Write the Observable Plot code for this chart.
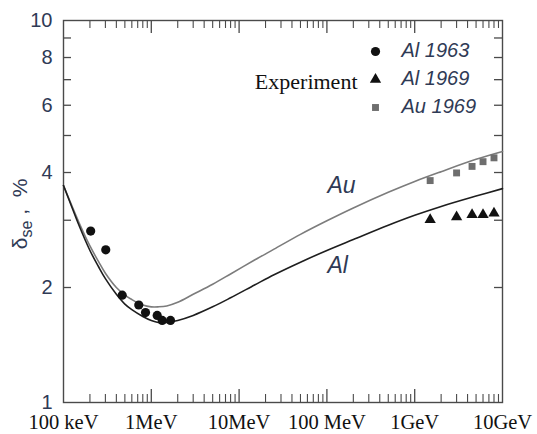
<!DOCTYPE html>
<html><head><meta charset="utf-8">
<script src="https://cdn.jsdelivr.net/npm/d3@7"></script>
<script src="https://cdn.jsdelivr.net/npm/@observablehq/plot@0.6"></script>
<style>body{margin:0;background:#fff}#chart svg{display:block}</style>
</head><body><div id="chart"></div>
<script>
// Theory curves: energy in MeV, delta_se in %
const energies = [0.1, 0.12, 0.15, 0.2, 0.25, 0.3, 0.4, 0.5, 0.6, 0.8, 1, 1.2, 1.5, 2, 3, 5, 8, 15, 25, 50, 100, 200, 500, 1000, 2000, 5000, 10000];
const auTheory = [3.70, 3.34, 2.96, 2.57, 2.34, 2.18, 2.00, 1.91, 1.86, 1.80, 1.78, 1.78, 1.79, 1.83, 1.92, 2.04, 2.17, 2.36, 2.52, 2.755, 2.99, 3.23, 3.55, 3.79, 4.02, 4.33, 4.54];
const alTheory = [3.70, 3.32, 2.91, 2.50, 2.27, 2.11, 1.92, 1.81, 1.75, 1.68, 1.64, 1.62, 1.62, 1.64, 1.69, 1.78, 1.88, 2.03, 2.16, 2.33, 2.50, 2.67, 2.91, 3.09, 3.26, 3.47, 3.63];
// Experiments
const al1963E = [0.204, 0.303, 0.466, 0.72, 0.859, 1.167, 1.331, 1.654];
const al1963V = [2.81, 2.51, 1.91, 1.80, 1.72, 1.69, 1.64, 1.64];
const exp1969E = [1500, 3000, 4500, 6000, 8000];
const al1969V = [3.01, 3.06, 3.10, 3.10, 3.13];
const au1969V = [3.81, 3.99, 4.15, 4.27, 4.37];
// Axes
const xTicks = [0.1, 1, 10, 100, 1000, 10000];
const xTickLabels = ["100 keV", "1MeV", "10MeV", "100 MeV", "1GeV", "10GeV"];
const yTicks = [1, 2, 4, 6, 8, 10];
const yMinorTicks = [3, 5, 7, 9];
const legendTitle = "Experiment";
const legendLabels = ["Al 1963", "Al 1969", "Au 1969"];
const curveLabels = ["Au", "Al"];

const W = 537, H = 434, mL = 63, mR = 35, mT = 20, mB = 32;
const pW = W - mL - mR, pH = H - mT - mB;
const frameColor = "#4a4a4a";
const navy = "#2f3a55";
const sans = "'Liberation Sans', Arial, sans-serif";
const serif = "'Liberation Serif', 'Times New Roman', serif";

const xMinor = [];
xTicks.slice(0, -1).forEach(d => { for (let k = 2; k <= 9; k++) xMinor.push(d * k); });
const xMajorInner = xTicks.slice(1, -1);
const yInner = yTicks.slice(1, -1).concat(yMinorTicks);
const labelOf = new Map(xTicks.map((d, i) => [d, xTickLabels[i]]));

const auRows = energies.map((e, i) => ({e, v: auTheory[i]}));
const alRows = energies.map((e, i) => ({e, v: alTheory[i]}));
const a63 = al1963E.map((e, i) => ({e, v: al1963V[i]}));
const al69 = exp1969E.map((e, i) => ({e, v: al1969V[i]}));
const au69 = exp1969E.map((e, i) => ({e, v: au1969V[i]}));
const symbols = ["circle", "triangle", "square"];
const symFill = ["#111", "#111", "#6e6e6e"];
const symR = [4.6, 4.2, 3.9];

const svg = Plot.plot({
  width: W, height: H,
  marginLeft: mL, marginRight: mR, marginTop: mT, marginBottom: mB,
  style: {background: "#fff", overflow: "visible"},
  x: {type: "log", domain: [0.1, 10000], label: null},
  y: {type: "log", domain: [1, 10], label: null},
  marks: [
    // ticks inward
    Plot.tickX(xMajorInner, {x: d => d, insetTop: pH - 13, stroke: frameColor, strokeWidth: 1.3}),
    Plot.tickX(xMajorInner, {x: d => d, insetBottom: pH - 13, stroke: frameColor, strokeWidth: 1.3}),
    Plot.tickX(xMinor, {x: d => d, insetTop: pH - 8, stroke: frameColor, strokeWidth: 1.1}),
    Plot.tickX(xMinor, {x: d => d, insetBottom: pH - 8, stroke: frameColor, strokeWidth: 1.1}),
    Plot.tickY(yInner, {y: d => d, insetRight: pW - 8, stroke: frameColor, strokeWidth: 1.3}),
    Plot.tickY(yInner, {y: d => d, insetLeft: pW - 8, stroke: frameColor, strokeWidth: 1.3}),
    Plot.frame({stroke: frameColor, strokeWidth: 1.4}),
    Plot.axisX({ticks: xTicks, tickSize: 0, tickPadding: 12, tickFormat: d => labelOf.get(d), fontSize: 20.5, fontFamily: serif, fill: "#111", label: null}),
    Plot.axisY({ticks: yTicks, tickSize: 0, tickPadding: 11, tickFormat: d => String(d), fontSize: 20, fontFamily: sans, fill: navy, label: null}),
    // theory
    Plot.line(auRows, {x: "e", y: "v", stroke: "#7c7c7c", strokeWidth: 1.6, curve: "catmull-rom"}),
    Plot.line(alRows, {x: "e", y: "v", stroke: "#1e1e1e", strokeWidth: 1.6, curve: "catmull-rom"}),
    // experiments
    Plot.dot(a63, {x: "e", y: "v", r: symR[0], symbol: "circle", fill: symFill[0], stroke: "none"}),
    Plot.dot(al69, {x: "e", y: "v", r: symR[1], symbol: "triangle", fill: symFill[1], stroke: "none"}),
    Plot.dot(au69, {x: "e", y: "v", r: symR[2], symbol: "square", fill: symFill[2], stroke: "none"}),
    // legend
    ...legendLabels.map((l, i) => Plot.dot([l], {frameAnchor: "top-right", dx: -127, dy: 31 + 28 * i, r: symR[i], symbol: symbols[i], fill: symFill[i], stroke: "none"})),
    ...legendLabels.map((l, i) => Plot.text([l], {text: d => d, frameAnchor: "top-right", textAnchor: "start", lineAnchor: "middle", dx: -101, dy: 30 + 28 * i, fontSize: 20, fontStyle: "italic", fontFamily: sans, fill: navy})),
    Plot.text([legendTitle], {text: d => d, frameAnchor: "top-right", textAnchor: "end", lineAnchor: "middle", dx: -145, dy: 61, fontSize: 22, fontFamily: serif, fill: "#111"}),
    // curve labels
    Plot.text([curveLabels[0]], {text: d => d, frameAnchor: "top-left", textAnchor: "start", lineAnchor: "middle", dx: 264, dy: 165, fontSize: 23, fontStyle: "italic", fontFamily: sans, fill: navy}),
    Plot.text([curveLabels[1]], {text: d => d, frameAnchor: "top-left", textAnchor: "start", lineAnchor: "middle", dx: 264, dy: 245, fontSize: 23, fontStyle: "italic", fontFamily: sans, fill: navy})
  ]
});

// y-axis label with subscript
const t = d3.select(svg).append("text")
  .attr("transform", "translate(27,214) rotate(-90)")
  .attr("text-anchor", "middle")
  .attr("font-family", sans)
  .attr("font-size", 21)
  .attr("fill", navy);
t.append("tspan").text("δ");
t.append("tspan").attr("dy", 5).attr("font-size", 16).text("se");
t.append("tspan").attr("dy", -5).text(" ,  %");

document.getElementById("chart").appendChild(svg);
</script>
</body></html>
